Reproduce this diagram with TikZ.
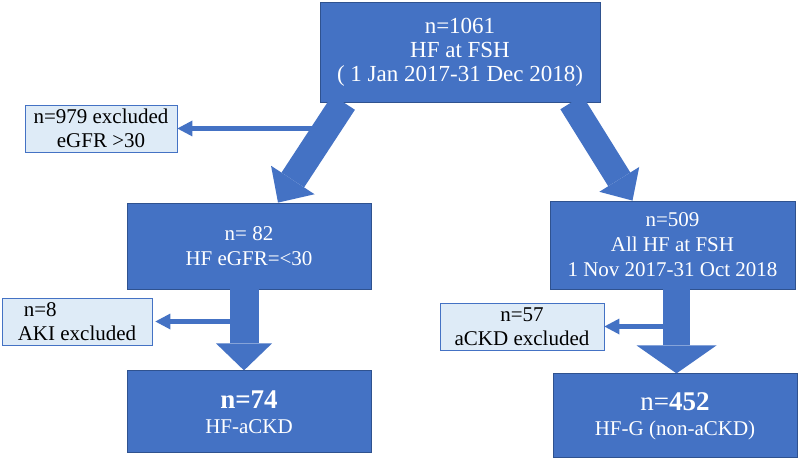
\documentclass[tikz,border=0pt]{standalone}
\usepackage{fontspec}
\setmainfont{Liberation Serif}
\usetikzlibrary{arrows.meta, positioning}
\definecolor{fshblue}{RGB}{68, 114, 196}
\definecolor{fshedge}{RGB}{47, 82, 143}
\definecolor{fshpale}{RGB}{222, 235, 247}

\begin{document}
\begin{tikzpicture}[x=1pt, y=-1pt,
    cohort/.style={rectangle, draw=fshedge, fill=fshblue, text=white, align=center, inner sep=0pt, line width=0.8pt, font=\fontsize{21}{25}\selectfont},
    excluded/.style={rectangle, draw=fshblue, fill=fshpale, align=center, inner sep=0pt, line width=0.8pt, minimum height=47pt, font=\fontsize{21}{24}\selectfont},
    flow/.style n args={3}{fshblue, line width=#1, -{Triangle[length=#2, width=#3, line width=0pt]}},
    exclude arrow/.style={fshblue, line width=5pt, -{Triangle[length=15pt, width=16pt, line width=0pt]}}]
    \useasboundingbox (0,0) rectangle (800,462);

    % cohort boxes
    \node[cohort, minimum width=280pt, minimum height=100pt, font=\fontsize{23}{24}\selectfont] (top) at (460,52) {n=1061\\HF at FSH\\( 1 Jan 2017-31 Dec 2018)};
    \node[cohort, minimum width=244pt, minimum height=86pt] (n82) at (249,246) {n= 82\\HF eGFR=<30};
    \node[cohort, minimum width=244pt, minimum height=82pt, below=81pt of n82] (n74) {{\fontsize{27}{30}\selectfont\bfseries n=74}\\HF-aCKD};
    \node[cohort, minimum width=245pt, minimum height=88pt] (n509) at (672.5,245) {n=509\\All HF at FSH\\1 Nov 2017-31 Oct 2018};
    \node[cohort, minimum width=244pt, minimum height=84pt, below=84pt of n509, xshift=2.5pt] (n452) {{\fontsize{27}{30}\selectfont n=\textbf{452}}\\HF-G (non-aCKD)};

    % exclusions
    \node[excluded, minimum width=152pt] (ex979) at (101,128.5) {n=979 excluded\\eGFR >30};
    \node[excluded, minimum width=150pt, align=left] (ex8) at (77,321.5) {\hspace*{6pt}n=8\\AKI excluded};
    \node[excluded, minimum width=164pt] (ex57) at (522,326.5) {n=57\\aCKD excluded};

    % flow arrows
    \draw[flow={27pt}{27pt}{52pt}] ([xshift=24pt]top.south west) -- ([xshift=29pt]n82.north);
    \draw[flow={26pt}{25pt}{47pt}] ([xshift=-29pt]top.south east) -- ([xshift=-40pt]n509.north);
    \draw[flow={29pt}{27pt}{56pt}] ([xshift=-5pt]n82.south) -- ([xshift=-5pt]n74.north);
    \draw[flow={27pt}{28pt}{80pt}] ([xshift=4pt]n509.south) -- ([xshift=4pt]n509.south |- n452.north);

    \draw[exclude arrow] ([xshift=141pt]ex979.east) -- (ex979.east);
    \draw[exclude arrow, shorten >=3pt] ([xshift=84pt]ex8.east) -- (ex8.east);
    \draw[exclude arrow] ([xshift=64pt]ex57.east) -- (ex57.east);
\end{tikzpicture}
\end{document}
